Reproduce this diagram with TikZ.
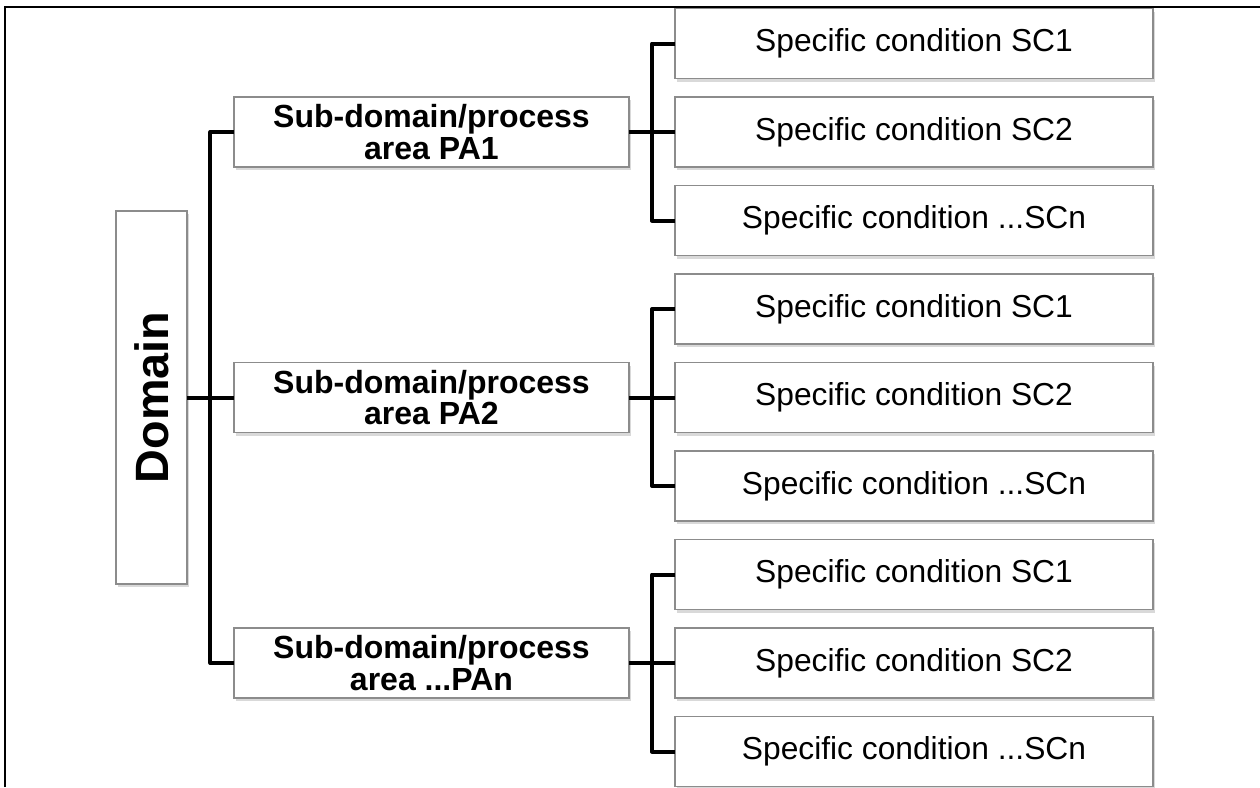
\documentclass[tikz,border=0pt]{standalone}
\usepackage{fontspec}
\usepackage{graphicx}
\setmainfont{Liberation Sans}
\usetikzlibrary{positioning, calc, shadows}

\tikzset{
    box/.style={draw=black!45, line width=0.6pt, fill=white, outer sep=0pt,
        drop shadow={shadow xshift=0.8pt, shadow yshift=-1.2pt, opacity=0.3}},
    cond/.style={box, minimum width=191.2pt, minimum height=28pt, inner sep=0pt,
        font=\fontsize{12.7pt}{12.7pt}\selectfont},
    area/.style={box, minimum width=158pt, minimum height=28pt, inner sep=0pt, align=center,
        font=\fontsize{12.8pt}{12.7pt}\selectfont\bfseries},
    link/.style={line width=1.6pt, line join=round},
}

\begin{document}
\begin{tikzpicture}[x=0.4pt, y=-0.4pt, node distance=7.4pt]
    \useasboundingbox (0,0) rectangle (1260,787);
    \draw[line width=0.8pt] (5,787) -- (5,7) -- (1260,7);

    \node[cond] at (914,43.5) (cond_1_1) {Specific condition SC1};
    \node[cond, below=of cond_1_1] (cond_1_2) {Specific condition SC2};
    \node[cond, below=of cond_1_2] (cond_1_3) {Specific condition ...SCn};
    \node[cond, below=of cond_1_3] (cond_2_1) {Specific condition SC1};
    \node[cond, below=of cond_2_1] (cond_2_2) {Specific condition SC2};
    \node[cond, below=of cond_2_2] (cond_2_3) {Specific condition ...SCn};
    \node[cond, below=of cond_2_3] (cond_3_1) {Specific condition SC1};
    \node[cond, below=of cond_3_1] (cond_3_2) {Specific condition SC2};
    \node[cond, below=of cond_3_2] (cond_3_3) {Specific condition ...SCn};

    \node[area, left=18.4pt of cond_1_2] (area_1) {Sub-domain/process\\area PA1};
    \node[area, left=18.4pt of cond_2_2] (area_2) {Sub-domain/process\\area PA2};
    \node[area, left=18.4pt of cond_3_2] (area_3) {Sub-domain/process\\area ...PAn};

    \node[box, minimum width=28.4pt, minimum height=149.2pt, left=18.8pt of area_2,
        font=\fontsize{18.7pt}{20pt}\selectfont\bfseries] (domain) {\rotatebox{90}{Domain}};

    % joints
    \coordinate (joint_0) at ($(domain.east)!0.5!(area_2.west)$);
    \coordinate (joint_1) at ($(area_1.east)!0.5!(cond_1_2.west)$);
    \coordinate (joint_2) at ($(area_2.east)!0.5!(cond_2_2.west)$);
    \coordinate (joint_3) at ($(area_3.east)!0.5!(cond_3_2.west)$);

    \draw[link] (domain) -- (area_2);
    \draw[link] (area_1.west) -| (joint_0) |- (area_3.west);

    \draw[link] (area_1) -- (cond_1_2);
    \draw[link] (cond_1_1.west) -| (joint_1) |- (cond_1_3.west);
    \draw[link] (area_2) -- (cond_2_2);
    \draw[link] (cond_2_1.west) -| (joint_2) |- (cond_2_3.west);
    \draw[link] (area_3) -- (cond_3_2);
    \draw[link] (cond_3_1.west) -| (joint_3) |- (cond_3_3.west);
\end{tikzpicture}
\end{document}
